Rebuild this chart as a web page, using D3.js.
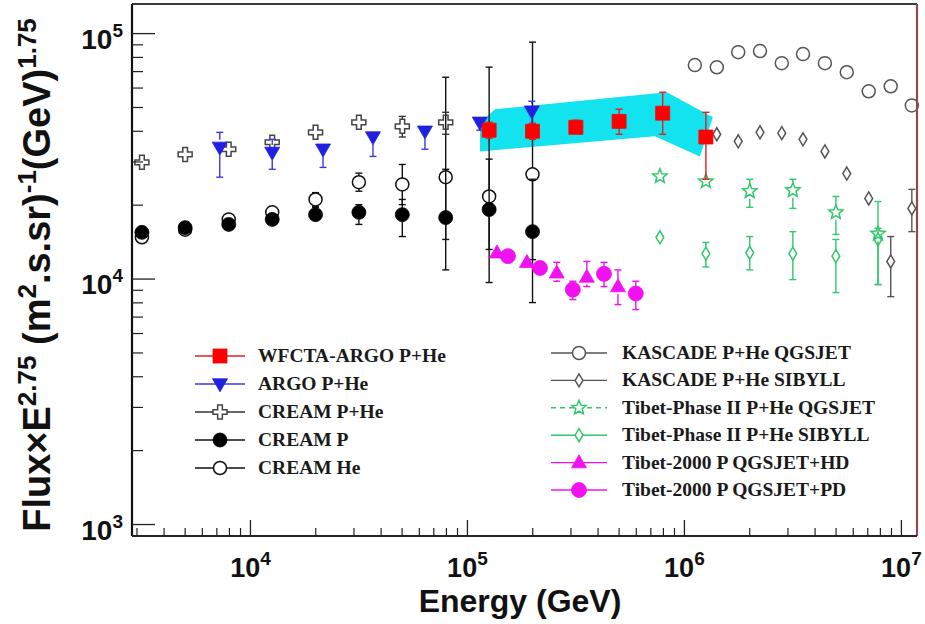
<!DOCTYPE html>
<html><head><meta charset="utf-8">
<script src="https://cdn.jsdelivr.net/npm/d3@7"></script>
<style>html,body{margin:0;padding:0;background:#fff;}svg{display:block;}</style>
</head><body>
<svg id="chart" width="925" height="624"></svg>
<script>
// ---------------- data (energy in GeV, flux × E^2.75) ----------------
const wfctaE    = [125900, 199500, 316000, 500000, 794000, 1256000];
const wfctaFlux = [40400, 40000, 41500, 43900, 47400, 37900];
const wfctaLo   = [37500, 37100, 38900, 38900, 38900, 25500];
const wfctaHi   = [43500, 43100, 44400, 49200, 57700, 47800];

// systematic band around the WFCTA-ARGO spectrum
const bandUpperE    = [114300, 134000, 830000, 1352000];
const bandUpperFlux = [43200, 49200, 57700, 45600];
const bandLowerE    = [1178000, 731000, 114300];
const bandLowerFlux = [31600, 38200, 33100];

const argoE    = [7220, 12600, 21600, 36700, 63700, 114000, 198000];
const argoFlux = [34400, 32800, 33800, 37900, 40000, 43500, 48300];
const argoLo   = [26000, 28000, 28500, 31600, 33800, 40400, 42700];
const argoHi   = [39600, 37100, 36100, 40000, 41900, 46000, 53000];

const creamPHeE    = [3160, 5000, 7940, 12600, 19950, 31600, 50100, 79400];
const creamPHeFlux = [29900, 32200, 33800, 36100, 39600, 43500, 41900, 43500];
const creamPHeLo   = [28900, 31100, 32600, 34800, 38000, 41500, 37900, 38900];
const creamPHeHi   = [30900, 33300, 35000, 37400, 41200, 45600, 46000, 47800];

const creamPE    = [3160, 5000, 7940, 12600, 19950, 31600, 50100, 79400, 125900, 199500];
const creamPFlux = [15500, 16200, 16700, 17500, 18300, 18700, 18300, 17800, 19200, 15600];
const creamPLo   = [14900, 15600, 16100, 16700, 17200, 16700, 14900, 10900, 9680, 8020];
const creamPHi   = [16100, 16800, 17400, 18300, 19600, 20100, 21100, 28000, 30800, 25500];

const creamHeE    = [3160, 5000, 7940, 12600, 19950, 31600, 50100, 79400, 125900, 199500];
const creamHeFlux = [14800, 15900, 17500, 18700, 21100, 24800, 24300, 26000, 21700, 26700];
const creamHeLo   = [14200, 15300, 16700, 17800, 19800, 22800, 20100, 14500, 13200, 12000];
const creamHeHi   = [15400, 16500, 18300, 19600, 22500, 27000, 29300, 66400, 73000, 92300];

const kascadeQgsE    = [1117000, 1410000, 1770000, 2230000, 2810000, 3520000, 4440000, 5600000, 7070000, 8930000, 11170000];
const kascadeQgsFlux = [74400, 72900, 84000, 84900, 75800, 82500, 75800, 69600, 58200, 61000, 51000];

const kascadeSibE    = [1410000, 1770000, 2230000, 2810000, 3520000, 4440000, 5600000, 7070000, 8930000, 11170000];
const kascadeSibFlux = [38900, 36400, 39600, 39300, 37100, 33100, 26900, 21300, 11800, 19400];
const kascadeSibLo   = [37700, 35300, 38400, 38100, 36000, 32000, 26000, 20600, 8480, 15600];
const kascadeSibHi   = [40100, 37500, 42000, 40500, 38200, 34200, 27800, 22000, 14900, 23200];

const tibetQgsE    = [771000, 1256000, 2000000, 3160000, 4990000, 7800000];
const tibetQgsFlux = [26200, 25000, 22800, 23000, 18700, 15300];
const tibetQgsLo   = [24900, 23800, 19600, 19400, 15200, 9500];
const tibetQgsHi   = [27500, 26300, 25500, 25500, 21700, 20700];

const tibetSibE    = [771000, 1256000, 2000000, 3160000, 4990000, 7800000];
const tibetSibFlux = [14800, 12700, 12800, 12700, 12400, 14500];
const tibetSibLo   = [14200, 11200, 10900, 9950, 8810, 9500];
const tibetSibHi   = [15400, 14100, 14900, 15600, 14500, 16100];

const tibetHdE    = [136800, 188000, 258000, 355000, 494000];
const tibetHdFlux = [12800, 11700, 10600, 10200, 9320];
const tibetHdLo   = [12400, 11300, 9800, 9320, 7870];
const tibetHdHi   = [13200, 12100, 11700, 11800, 10900];

const tibetPdE    = [153700, 216000, 306000, 426000, 597000];
const tibetPdFlux = [12400, 11100, 9060, 10500, 8730];
const tibetPdLo   = [12000, 10700, 8250, 9320, 7510];
const tibetPdHi   = [12800, 11500, 9800, 11700, 9800];

const xTickExponents = ["4", "5", "6", "7"];
const yTickExponents = ["3", "4", "5"];

const legendLeft  = ["WFCTA-ARGO P+He", "ARGO P+He", "CREAM P+He", "CREAM P", "CREAM He"];
const legendRight = ["KASCADE P+He QGSJET", "KASCADE P+He SIBYLL", "Tibet-Phase II P+He QGSJET",
                     "Tibet-Phase II P+He SIBYLL", "Tibet-2000 P QGSJET+HD", "Tibet-2000 P QGSJET+PD"];

// ---------------- layout ----------------
const svg = d3.select("#chart");
const plot = {left: 132, right: 917, top: 4, bottom: 536};

const x = d3.scaleLog().domain([2845, 1.18e7]).range([plot.left, plot.right]);
const y = d3.scaleLog().domain([898, 1.32e5]).range([plot.bottom, plot.top]);

const AXIS_FONT = "'Liberation Sans', Arial, Helvetica, sans-serif";
const LEG_FONT = "'Liberation Serif', 'Times New Roman', serif";

// marker shapes
function markerPath(kind, s) {
  switch (kind) {
    case "square":   return d3.symbol(d3.symbolSquare, s * s)();
    case "circle":   return d3.symbol(d3.symbolCircle, Math.PI * s * s / 4)();
    case "triDown":
    case "triUp": {
      const h = s * 0.87, w = s / 2;
      return kind === "triUp"
        ? `M0,${-h*0.6}L${w},${h*0.4}L${-w},${h*0.4}Z`
        : `M0,${h*0.6}L${w},${-h*0.4}L${-w},${-h*0.4}Z`;
    }
    case "cross": {
      const a = s / 2, b = s / 6;
      return `M${-b},${-a}H${b}V${-b}H${a}V${b}H${b}V${a}H${-b}V${b}H${-a}V${-b}H${-b}Z`;
    }
    case "diamond": {
      const hh = s / 2, ww = s * 0.3;
      return `M0,${-hh}L${ww},0L0,${hh}L${-ww},0Z`;
    }
    case "star": {
      let p = "";
      for (let i = 0; i < 10; i++) {
        const r = i % 2 === 0 ? s / 2 : s * 0.22;
        const ang = -Math.PI / 2 + i * Math.PI / 5;
        p += (i === 0 ? "M" : "L") + (r * Math.cos(ang)).toFixed(2) + "," + (r * Math.sin(ang)).toFixed(2);
      }
      return p + "Z";
    }
  }
}

const series = [
  {name: legendLeft[4],  E: creamHeE, F: creamHeFlux, lo: creamHeLo, hi: creamHeHi,
   kind: "circle", size: 13, color: "#111", open: true, line: "#111"},
  {name: legendLeft[3],  E: creamPE, F: creamPFlux, lo: creamPLo, hi: creamPHi,
   kind: "circle", size: 14, color: "#000", open: false, line: "#111"},
  {name: legendLeft[2],  E: creamPHeE, F: creamPHeFlux, lo: creamPHeLo, hi: creamPHeHi,
   kind: "cross", size: 14, color: "#444", open: true, line: "#333"},
  {name: legendRight[0], E: kascadeQgsE, F: kascadeQgsFlux, lo: null, hi: null,
   kind: "circle", size: 13, color: "#555", open: true, line: "#555"},
  {name: legendRight[1], E: kascadeSibE, F: kascadeSibFlux, lo: kascadeSibLo, hi: kascadeSibHi,
   kind: "diamond", size: 13, color: "#555", open: true, line: "#555"},
  {name: legendRight[2], E: tibetQgsE, F: tibetQgsFlux, lo: tibetQgsLo, hi: tibetQgsHi,
   kind: "star", size: 15, color: "#2fc86a", open: true, line: "#2fc86a", dash: "5,4"},
  {name: legendRight[3], E: tibetSibE, F: tibetSibFlux, lo: tibetSibLo, hi: tibetSibHi,
   kind: "diamond", size: 13, color: "#2fc86a", open: true, line: "#2fc86a"},
  {name: legendLeft[1],  E: argoE, F: argoFlux, lo: argoLo, hi: argoHi,
   kind: "triDown", size: 15, color: "#2020e0", open: false, line: "#3a3ae0"},
  {name: legendRight[4], E: tibetHdE, F: tibetHdFlux, lo: tibetHdLo, hi: tibetHdHi,
   kind: "triUp", size: 15, color: "#f010f0", open: false, line: "#f010f0"},
  {name: legendRight[5], E: tibetPdE, F: tibetPdFlux, lo: tibetPdLo, hi: tibetPdHi,
   kind: "circle", size: 15, color: "#f010f0", open: false, line: "#f010f0"},
  {name: legendLeft[0],  E: wfctaE, F: wfctaFlux, lo: wfctaLo, hi: wfctaHi,
   kind: "square", size: 14, color: "#ff0000", open: false, line: "#e02020"}
];
const byName = Object.fromEntries(series.map(s => [s.name, s]));

// ---------------- systematic band ----------------
const bandPts = bandUpperE.map((e, i) => [x(e), y(bandUpperFlux[i])])
  .concat(bandLowerE.map((e, i) => [x(e), y(bandLowerFlux[i])]));
svg.append("path")
  .attr("d", d3.line()(bandPts) + "Z")
  .attr("fill", "#12e3ee");

// ---------------- error bars and markers ----------------
const gData = svg.append("g");
series.forEach(s => {
  const g = gData.append("g");
  if (s.lo) {
    s.E.forEach((e, i) => {
      const cx = x(e), cy = y(s.F[i]);
      const yHi = y(s.hi[i]), yLo = y(s.lo[i]);
      const gap = s.size / 2;
      if (cy - gap > yHi) {
        g.append("line").attr("x1", cx).attr("x2", cx).attr("y1", yHi).attr("y2", cy - gap)
          .attr("stroke", s.line).attr("stroke-width", 1.4);
        g.append("line").attr("x1", cx - 3.5).attr("x2", cx + 3.5).attr("y1", yHi).attr("y2", yHi)
          .attr("stroke", s.line).attr("stroke-width", 1.4);
      }
      if (cy + gap < yLo) {
        g.append("line").attr("x1", cx).attr("x2", cx).attr("y1", cy + gap).attr("y2", yLo)
          .attr("stroke", s.line).attr("stroke-width", 1.4);
        g.append("line").attr("x1", cx - 3.5).attr("x2", cx + 3.5).attr("y1", yLo).attr("y2", yLo)
          .attr("stroke", s.line).attr("stroke-width", 1.4);
      }
    });
  }
  g.selectAll("path.m").data(s.E).join("path")
    .attr("class", "m")
    .attr("d", markerPath(s.kind, s.size))
    .attr("transform", (e, i) => `translate(${x(e)},${y(s.F[i])})`)
    .attr("fill", s.open ? "none" : s.color)
    .attr("stroke", s.color)
    .attr("stroke-width", s.open ? 1.5 : 0.8);
});

// ---------------- frame and axes ----------------
svg.append("line").attr("x1", plot.left).attr("x2", plot.right).attr("y1", plot.top).attr("y2", plot.top)
  .attr("stroke", "#3a3a3a").attr("stroke-width", 2.2);
svg.append("line").attr("x1", plot.right).attr("x2", plot.right).attr("y1", plot.top).attr("y2", plot.bottom)
  .attr("stroke", "#8e4b4f").attr("stroke-width", 2.2);
svg.append("line").attr("x1", plot.left).attr("x2", plot.right).attr("y1", plot.bottom).attr("y2", plot.bottom)
  .attr("stroke", "#2a2226").attr("stroke-width", 2.2);
svg.append("line").attr("x1", plot.left).attr("x2", plot.left).attr("y1", plot.top).attr("y2", plot.bottom)
  .attr("stroke", "#111").attr("stroke-width", 2.2);

// x ticks (drawn inward from the bottom edge)
const xMajor = xTickExponents.map(p => Math.pow(10, +p));
const xMinor = [];
[3, 4, 5, 6].forEach(d => { for (let k = 2; k <= 9; k++) { const v = k * Math.pow(10, d); if (v > x.domain()[0] && v < x.domain()[1]) xMinor.push(v); } });
svg.append("g").selectAll("line").data(xMinor).join("line")
  .attr("x1", d => x(d)).attr("x2", d => x(d)).attr("y1", plot.bottom).attr("y2", plot.bottom - 8)
  .attr("stroke", "#222").attr("stroke-width", 1.2);
svg.append("g").selectAll("line").data(xMajor).join("line")
  .attr("x1", d => x(d)).attr("x2", d => x(d)).attr("y1", plot.bottom).attr("y2", plot.bottom - 16)
  .attr("stroke", "#222").attr("stroke-width", 1.3);
const xLab = svg.append("g").selectAll("text").data(xTickExponents).join("text")
  .attr("x", d => x(Math.pow(10, +d)))
  .attr("y", 577)
  .attr("text-anchor", "middle")
  .attr("font-family", AXIS_FONT).attr("font-weight", "bold").attr("font-size", 27)
  .attr("fill", "#111");
xLab.append("tspan").text("10");
xLab.append("tspan").attr("dy", -12).attr("font-size", 19).text(d => d);

// y ticks (drawn inward from the left edge)
const yMajor = yTickExponents.map(p => Math.pow(10, +p));
const yMinor = [];
[2, 3, 4].forEach(d => { for (let k = 2; k <= 9; k++) { const v = k * Math.pow(10, d); if (v > y.domain()[0] && v < y.domain()[1]) yMinor.push(v); } });
svg.append("g").selectAll("line").data(yMinor).join("line")
  .attr("x1", plot.left).attr("x2", plot.left + 11).attr("y1", d => y(d)).attr("y2", d => y(d))
  .attr("stroke", "#222").attr("stroke-width", 1.2);
svg.append("g").selectAll("line").data(yMajor).join("line")
  .attr("x1", plot.left).attr("x2", plot.left + 23).attr("y1", d => y(d)).attr("y2", d => y(d))
  .attr("stroke", "#222").attr("stroke-width", 1.3);
const yLab = svg.append("g").selectAll("text").data(yTickExponents).join("text")
  .attr("x", 123)
  .attr("y", d => y(Math.pow(10, +d)) + 15)
  .attr("text-anchor", "end")
  .attr("font-family", AXIS_FONT).attr("font-weight", "bold").attr("font-size", 28)
  .attr("fill", "#111");
yLab.append("tspan").text("10");
yLab.append("tspan").attr("dy", -12).attr("font-size", 19).text(d => d);

// axis titles
svg.append("text")
  .attr("x", 520).attr("y", 612)
  .attr("text-anchor", "middle")
  .attr("font-family", AXIS_FONT).attr("font-weight", "bold").attr("font-size", 32)
  .attr("fill", "#111")
  .text("Energy (GeV)");

const yTitle = svg.append("text")
  .attr("transform", "translate(50,275) rotate(-90)")
  .attr("text-anchor", "middle")
  .attr("font-family", AXIS_FONT).attr("font-weight", "bold").attr("font-size", 38)
  .attr("fill", "#111");
const supParts = [
  ["Flux\u00d7E", 0], ["2.75", 1], [" (m", 0], ["2", 1], [".s.sr)", 0], ["-1", 1], ["(GeV)", 0], ["1.75", 1]
];
let prevSup = 0;
supParts.forEach(([t, sup]) => {
  const dy = sup === prevSup ? 0 : (sup ? -14 : 14);
  yTitle.append("tspan").attr("dy", dy).attr("font-size", sup ? 26 : 38).text(t);
  prevSup = sup;
});

// ---------------- legend ----------------
function legendColumn(names, lineX0, lineX1, textX, y0, step) {
  names.forEach((n, i) => {
    const s = byName[n];
    const cy = y0 + i * step;
    const mx = (lineX0 + lineX1) / 2;
    svg.append("line").attr("x1", lineX0).attr("x2", lineX1).attr("y1", cy).attr("y2", cy)
      .attr("stroke", s.line).attr("stroke-width", 1.4)
      .attr("stroke-dasharray", s.dash || null);
    svg.append("path").attr("d", markerPath(s.kind, s.size))
      .attr("transform", `translate(${mx},${cy})`)
      .attr("fill", s.open ? "#fff" : s.color)
      .attr("stroke", s.color).attr("stroke-width", s.open ? 1.5 : 0.8);
    svg.append("text").attr("x", textX).attr("y", cy + 6)
      .attr("font-family", LEG_FONT).attr("font-weight", "bold").attr("font-size", 19.5)
      .attr("fill", "#1a1a1a")
      .text(n);
  });
}
legendColumn(legendLeft, 195, 245, 258, 356, 28);
legendColumn(legendRight, 551, 607, 622, 353, 27.4);
</script>
</body></html>
